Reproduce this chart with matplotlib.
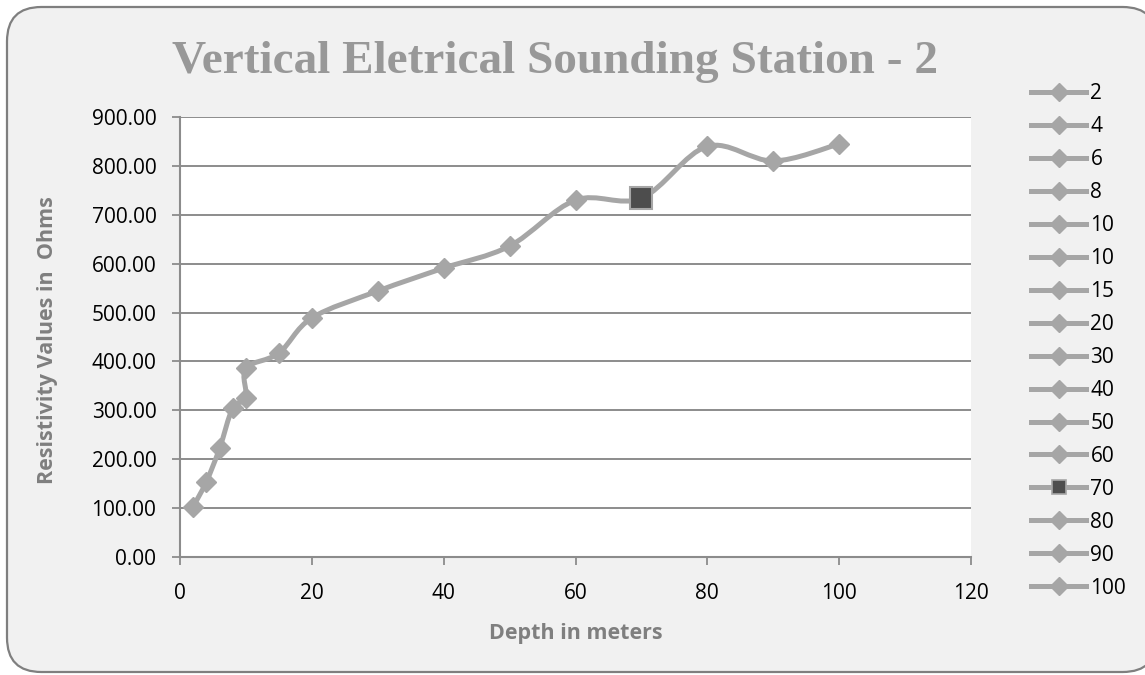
import matplotlib
matplotlib.use("Agg")
import matplotlib.pyplot as plt
from matplotlib.path import Path
from matplotlib.patches import PathPatch, FancyBboxPatch
from matplotlib.lines import Line2D
import numpy as np

# Depth (m) and apparent resistivity (Ohm) for VES station 2
depths = [2, 4, 6, 8, 10, 10, 15, 20, 30, 40, 50, 60, 70, 80, 90, 100]
resistivity = [103, 154, 222, 305, 325, 386, 417, 489, 544, 591, 636, 730, 734, 840, 810, 845]
legend_labels = ["2", "4", "6", "8", "10", "10", "15", "20", "30", "40",
                 "50", "60", "70", "80", "90", "100"]
highlight_index = 12  # the 70 m reading is shown with a dark square

x_ticks = [0, 20, 40, 60, 80, 100, 120]
y_ticks = [0, 100, 200, 300, 400, 500, 600, 700, 800, 900]

LINE_GREY = "#a6a6a6"
MARK_GREY = "#a6a6a6"
DARK = "#4d4d4d"
TEXT_GREY = "#7f7f7f"
BG = "#f1f1f1"
FONT = "Open Sans"

W, H = 1145, 675
fig = plt.figure(figsize=(W / 100, H / 100), dpi=100)
fig.patch.set_facecolor("white")

# rounded chart frame (runs off the right edge)
frame = FancyBboxPatch((7 / W, 3 / H), 1150 / W, 665 / H,
                       boxstyle="round,pad=0,rounding_size=0.03",
                       transform=fig.transFigure, facecolor=BG,
                       edgecolor="#7f7f7f", linewidth=1.6, zorder=-10,
                       mutation_aspect=W / H)
fig.patches.append(frame)

ax = fig.add_axes([180 / W, 1 - 557 / H, (971 - 180) / W, (557 - 117) / H])
ax.set_zorder(1)
ax.set_facecolor("white")
ax.set_xlim(0, 120)
ax.set_ylim(0, 900)
ax.set_xticks(x_ticks)
ax.set_yticks(y_ticks)
ax.set_xticklabels([str(t) for t in x_ticks])
ax.set_yticklabels([f"{t:.2f}" for t in y_ticks])

for lab in ax.get_xticklabels() + ax.get_yticklabels():
    lab.set_fontfamily(FONT)
    lab.set_fontsize(15)
ax.tick_params(axis="both", direction="out", length=6, width=1.3, color="#8c8c8c")
ax.tick_params(axis="y", pad=11)
ax.tick_params(axis="x", pad=13)

for side in ["top", "right"]:
    ax.spines[side].set_visible(False)
for side in ["left", "bottom"]:
    ax.spines[side].set_color("#8c8c8c")
    ax.spines[side].set_linewidth(1.5)

ax.yaxis.grid(True, color="#8c8c8c", linewidth=1.4)
ax.set_axisbelow(True)

# smoothed connecting line (cubic Bezier segments through every reading)
pts = np.column_stack([depths, resistivity]).astype(float)
n = len(pts)
verts = [pts[0]]
codes = [Path.MOVETO]
for i in range(n - 1):
    p0 = pts[i - 1] if i > 0 else pts[i]
    p1 = pts[i]
    p2 = pts[i + 1]
    p3 = pts[i + 2] if i + 2 < n else pts[i + 1]
    c1 = p1 + (p2 - p0) / 6.0
    c2 = p2 - (p3 - p1) / 6.0
    verts += [c1, c2, p2]
    codes += [Path.CURVE4] * 3
curve = PathPatch(Path(verts, codes), facecolor="none", edgecolor=LINE_GREY,
                  linewidth=3.6, capstyle="round", joinstyle="round", zorder=3)
ax.add_patch(curve)

# markers for every reading
for i, (d, r) in enumerate(zip(depths, resistivity)):
    if i == highlight_index:
        ax.plot(d, r, marker="s", markersize=16, markerfacecolor=DARK,
                markeredgecolor=MARK_GREY, markeredgewidth=1.5, zorder=5,
                clip_on=False)
    else:
        ax.plot(d, r, marker="D", markersize=10, markerfacecolor=MARK_GREY,
                markeredgecolor=MARK_GREY, zorder=4, clip_on=False)

ax.set_xlabel("Depth in meters", fontfamily=FONT, fontweight="bold",
              fontsize=15.5, color=TEXT_GREY, va="center")
ax.xaxis.set_label_coords(0.5, (557 - 633) / 440)
ax.set_ylabel("Resistivity Values in  Ohms", fontfamily=FONT,
              fontweight="bold", fontsize=15.5, color=TEXT_GREY,
              va="center", ha="center")
ax.yaxis.set_label_coords((48 - 180) / 791, 0.5 - (340 - 337) / 440)

fig.text(555 / W, 1 - 73 / H, "Vertical Eletrical Sounding Station - 2",
         ha="center", va="baseline", fontfamily="Liberation Serif",
         fontweight="bold", fontsize=34, color="#989898")

# legend: one entry per reading
handles = []
for i, lab in enumerate(legend_labels):
    if i == highlight_index:
        h = Line2D([], [], color=LINE_GREY, linewidth=3.6, marker="s",
                   markersize=10, markerfacecolor=DARK, markeredgecolor=MARK_GREY,
                   markeredgewidth=1.2)
    else:
        h = Line2D([], [], color=LINE_GREY, linewidth=3.6, marker="D",
                   markersize=9, markerfacecolor=MARK_GREY,
                   markeredgecolor=MARK_GREY)
    handles.append(h)
leg = fig.legend(handles, legend_labels, loc="upper left",
                 bbox_to_anchor=(1031 / W, 1 - 83 / H), frameon=False,
                 prop=dict(family=FONT, size=15), handlelength=2.65,
                 handletextpad=0.2, labelspacing=0.575, borderaxespad=0,
                 borderpad=0)

fig.savefig("out.png", dpi=100, facecolor=fig.get_facecolor())
